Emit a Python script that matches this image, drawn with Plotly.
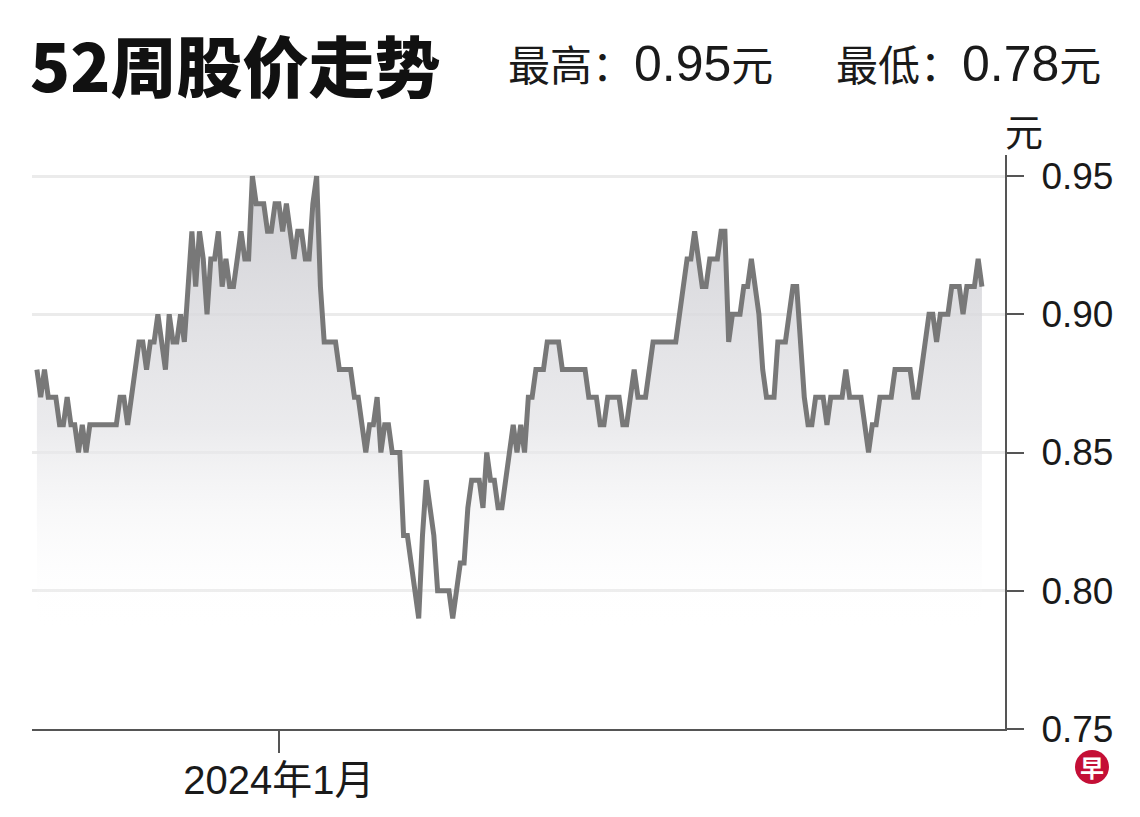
import plotly.graph_objects as go
import pandas as pd

# ---------------- data ----------------
dates = pd.bdate_range("2023-10-03", periods=251).strftime("%Y-%m-%d").tolist()

prices = [
    0.88, 0.87, 0.88, 0.87, 0.87, 0.87, 0.86, 0.86, 0.87, 0.86,
    0.86, 0.85, 0.86, 0.85, 0.86, 0.86, 0.86, 0.86, 0.86, 0.86,
    0.86, 0.86, 0.87, 0.87, 0.86, 0.87, 0.88, 0.89, 0.89, 0.88,
    0.89, 0.89, 0.90, 0.89, 0.88, 0.90, 0.89, 0.89, 0.90, 0.89,
    0.91, 0.93, 0.91, 0.93, 0.92, 0.90, 0.92, 0.92, 0.93, 0.91,
    0.92, 0.91, 0.91, 0.92, 0.93, 0.92, 0.92, 0.95, 0.94, 0.94,
    0.94, 0.93, 0.93, 0.94, 0.94, 0.93, 0.94, 0.93, 0.92, 0.93,
    0.93, 0.92, 0.92, 0.94, 0.95, 0.91, 0.89, 0.89, 0.89, 0.89,
    0.88, 0.88, 0.88, 0.88, 0.87, 0.87, 0.86, 0.85, 0.86, 0.86,
    0.87, 0.85, 0.86, 0.86, 0.85, 0.85, 0.85, 0.82, 0.82, 0.81,
    0.80, 0.79, 0.82, 0.84, 0.83, 0.82, 0.80, 0.80, 0.80, 0.80,
    0.79, 0.80, 0.81, 0.81, 0.83, 0.84, 0.84, 0.84, 0.83, 0.85,
    0.84, 0.84, 0.83, 0.83, 0.84, 0.85, 0.86, 0.85, 0.86, 0.85,
    0.87, 0.87, 0.88, 0.88, 0.88, 0.89, 0.89, 0.89, 0.89, 0.88,
    0.88, 0.88, 0.88, 0.88, 0.88, 0.88, 0.87, 0.87, 0.87, 0.86,
    0.86, 0.87, 0.87, 0.87, 0.87, 0.86, 0.86, 0.87, 0.88, 0.87,
    0.87, 0.87, 0.88, 0.89, 0.89, 0.89, 0.89, 0.89, 0.89, 0.89,
    0.90, 0.91, 0.92, 0.92, 0.93, 0.92, 0.91, 0.91, 0.92, 0.92,
    0.92, 0.93, 0.93, 0.89, 0.90, 0.90, 0.90, 0.91, 0.91, 0.92,
    0.91, 0.90, 0.88, 0.87, 0.87, 0.87, 0.89, 0.89, 0.89, 0.90,
    0.91, 0.91, 0.89, 0.87, 0.86, 0.86, 0.87, 0.87, 0.87, 0.86,
    0.87, 0.87, 0.87, 0.87, 0.88, 0.87, 0.87, 0.87, 0.87, 0.86,
    0.85, 0.86, 0.86, 0.87, 0.87, 0.87, 0.87, 0.88, 0.88, 0.88,
    0.88, 0.88, 0.87, 0.87, 0.88, 0.89, 0.90, 0.90, 0.89, 0.90,
    0.90, 0.90, 0.91, 0.91, 0.91, 0.90, 0.91, 0.91, 0.91, 0.92,
    0.91,
]

y_tick_values = [0.75, 0.80, 0.85, 0.90, 0.95]
y_tick_labels = ["0.75", "0.80", "0.85", "0.90", "0.95"]
x_tick_dates = ["2024-01-01"]
x_tick_labels = ["2024年1月"]

title_text = "52周股价走势"
high_label, high_value = "最高：", "0.95"
low_label, low_value = "最低：", "0.78"
unit_text = "元"
logo_text = "早"

LATIN = "Liberation Sans, Arial, Noto Sans CJK SC, sans-serif"
CJK = "Noto Sans CJK SC, sans-serif"

# ---------------- figure ----------------
fig = go.Figure()
fig.add_trace(go.Scatter(
    x=dates, y=prices, mode="lines",
    line=dict(color="#787878", width=5),
    fill="tozeroy",
    fillgradient=dict(
        type="vertical",
        start=0.785, stop=0.95,
        colorscale=[[0, "rgba(255,255,255,0)"],
                    [0.45, "rgba(228,228,231,0.75)"],
                    [1, "rgba(204,204,209,0.9)"]],
    ),
    hoverinfo="skip",
    showlegend=False,
))

fig.update_layout(
    width=1124, height=801,
    autosize=False,
    margin=dict(l=24, r=127, t=147, b=80),
    paper_bgcolor="white",
    plot_bgcolor="white",
    font=dict(family=LATIN, color="#1a1a1a"),
    xaxis=dict(
        type="category",
        range=[-1.3, 256.1],
        tickvals=x_tick_dates,
        ticktext=x_tick_labels,
        ticks="outside", ticklen=22, tickwidth=2, tickcolor="#555555",
        showline=True, linecolor="#555555", linewidth=2,
        showgrid=False, zeroline=False,
        tickfont=dict(size=40, family=LATIN, color="#1a1a1a"),
        ticklabelstandoff=-7,
        automargin=False,
    ),
    yaxis=dict(
        side="right",
        range=[0.75, 0.9576],
        tickvals=y_tick_values,
        ticktext=y_tick_labels,
        ticks="outside", ticklen=17, tickwidth=2, tickcolor="#555555",
        showline=True, linecolor="#555555", linewidth=2,
        showgrid=True, gridcolor="#ebebeb", gridwidth=3,
        zeroline=False,
        tickfont=dict(size=37, family=LATIN, color="#1a1a1a"),
        ticklabelstandoff=10,
        automargin=False,
    ),
)

fig.add_annotation(
    text=title_text, xref="paper", yref="paper",
    x=-0.004, y=1.160, xanchor="left", yanchor="middle",
    showarrow=False,
    font=dict(family=CJK, size=66, color="#111111", weight=900),
)
fig.add_annotation(
    text=f'{high_label}<span style="font-size:50px">{high_value}</span>{unit_text}',
    xref="paper", yref="paper", x=0.4875, y=1.158,
    xanchor="left", yanchor="middle", showarrow=False,
    font=dict(family=LATIN, size=42, color="#1a1a1a"),
)
fig.add_annotation(
    text=f'{low_label}<span style="font-size:50px">{low_value}</span>{unit_text}',
    xref="paper", yref="paper", x=0.8245, y=1.158,
    xanchor="left", yanchor="middle", showarrow=False,
    font=dict(family=LATIN, size=42, color="#1a1a1a"),
)
fig.add_annotation(
    text=unit_text, xref="paper", yref="paper",
    x=1.0195, y=1.045, xanchor="center", yanchor="middle",
    showarrow=False,
    font=dict(family=CJK, size=38, color="#1a1a1a"),
)

# logo
fig.add_shape(
    type="circle", xref="paper", yref="paper",
    xsizemode="pixel", ysizemode="pixel",
    xanchor=1.0894, yanchor=-0.0662,
    x0=-17, x1=17, y0=-17, y1=17,
    fillcolor="#c40f36", line=dict(width=0),
)
fig.add_annotation(
    text=logo_text, xref="paper", yref="paper",
    x=1.0894, y=-0.0662, xanchor="center", yanchor="middle",
    showarrow=False,
    font=dict(family=CJK, size=24, color="white", weight=700),
)

fig.write_html("out.html")
